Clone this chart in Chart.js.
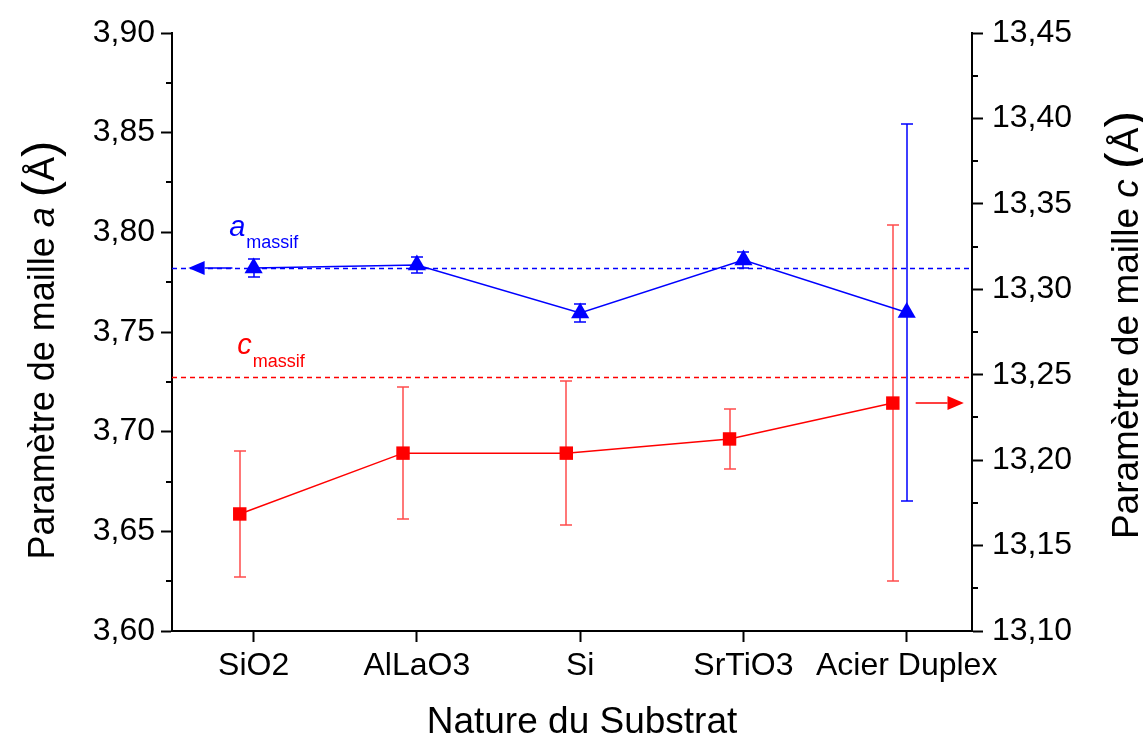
<!DOCTYPE html>
<html><head><meta charset="utf-8">
<script src="https://cdn.jsdelivr.net/npm/chart.js@4.4.1/dist/chart.umd.min.js"></script>
<style>html,body{margin:0;padding:0;background:#fff;}#wrap{width:1143px;height:738px;position:relative;}canvas{display:block;}</style>
</head><body><div id="wrap"><canvas id="c" width="1143" height="738" style="width:1143px;height:738px"></canvas></div>
<script>
// ---- data ----
const categories = ['SiO2', 'AlLaO3', 'Si', 'SrTiO3', 'Acier Duplex'];
const aValues = [3.7821, 3.7836, 3.7595, 3.7861, 3.7598];
const aErrors = [0.0045, 0.0040, 0.0043, 0.0038, 0.0945];
const cValues = [13.1685, 13.2041, 13.2041, 13.2124, 13.2334];
const cErrors = [0.0370, 0.0387, 0.0420, 0.0175, 0.1040];
const aMassif = 3.7821;
const cMassif = 13.2486;
const leftTicks = [3.60, 3.65, 3.70, 3.75, 3.80, 3.85, 3.90];
const rightTicks = [13.10, 13.15, 13.20, 13.25, 13.30, 13.35, 13.40, 13.45];

const FONT = "'Liberation Sans', Arial, sans-serif";
const BLUE = '#0000ff', RED = '#ff0000';
const C_SHIFT = -0.085; // horizontal offset of the c series markers

const fmt = v => v.toFixed(2).replace('.', ',');
const minors = t => t.slice(0, -1).map((v, i) => (v + t[i + 1]) / 2);

const aData = aValues.map((v, i) => ({x: i, y: v}));
const cData = cValues.map((v, i) => ({x: i + C_SHIFT, y: v}));

function drawErr(ctx, px, yScale, v, e, color, cap) {
  const top = Math.round(yScale.getPixelForValue(v + e)), bot = Math.round(yScale.getPixelForValue(v - e));
  px = Math.round(px);
  ctx.strokeStyle = color; ctx.lineWidth = 1.5;
  ctx.beginPath();
  ctx.moveTo(px, top); ctx.lineTo(px, bot);
  ctx.moveTo(px - cap, top); ctx.lineTo(px + cap, top);
  ctx.moveTo(px - cap, bot); ctx.lineTo(px + cap, bot);
  ctx.stroke();
}

function arrow(ctx, x0, x1, xTip, py, color) {
  py = Math.round(py);
  ctx.strokeStyle = color; ctx.fillStyle = color; ctx.lineWidth = 1.5;
  ctx.beginPath(); ctx.moveTo(x0, py); ctx.lineTo(x1, py); ctx.stroke();
  ctx.beginPath(); ctx.moveTo(xTip, py); ctx.lineTo(x1, py - 7); ctx.lineTo(x1, py + 7); ctx.closePath(); ctx.fill();
}

function richText(ctx, parts, cx, cy, rot) {
  ctx.save();
  ctx.translate(cx, cy); ctx.rotate(rot);
  let w = 0;
  parts.forEach(p => { ctx.font = p.font; w += ctx.measureText(p.t).width; });
  let x = -w / 2;
  ctx.textBaseline = 'alphabetic';
  parts.forEach(p => { ctx.font = p.font; ctx.fillStyle = p.c || '#000'; ctx.fillText(p.t, x, p.dy || 0); x += ctx.measureText(p.t).width; });
  ctx.restore();
}

const overlay = {
  id: 'overlay',
  beforeDatasetsDraw(chart) {
    const {ctx, chartArea, scales: {x, y, y2}} = chart;
    ctx.save();
    ctx.lineWidth = 1.3; ctx.setLineDash([5, 4]);
    let py = Math.round(y.getPixelForValue(aMassif)) + 0.5;
    ctx.strokeStyle = BLUE; ctx.beginPath(); ctx.moveTo(chartArea.left, py); ctx.lineTo(chartArea.right, py); ctx.stroke();
    py = Math.round(y2.getPixelForValue(cMassif)) + 0.5;
    ctx.strokeStyle = RED; ctx.beginPath(); ctx.moveTo(chartArea.left, py); ctx.lineTo(chartArea.right, py); ctx.stroke();
    ctx.setLineDash([]);
    cData.forEach((p, i) => drawErr(ctx, x.getPixelForValue(p.x), y2, p.y, cErrors[i], 'rgba(255,30,30,0.8)', 6));
    aData.forEach((p, i) => drawErr(ctx, x.getPixelForValue(p.x), y, p.y, aErrors[i], BLUE, 6));
    // arrows pointing to the axis of each series
    arrow(ctx, x.getPixelForValue(-0.13), x.getPixelForValue(-0.30), x.getPixelForValue(-0.40), y.getPixelForValue(aValues[0]), BLUE);
    const li = cValues.length - 1;
    arrow(ctx, x.getPixelForValue(li + 0.055), x.getPixelForValue(li + 0.25), x.getPixelForValue(li + 0.35), y2.getPixelForValue(cValues[li]), RED);
    ctx.restore();
  },
  afterDraw(chart) {
    const {ctx, chartArea, scales: {x, y, y2}} = chart;
    ctx.save();
    ctx.strokeStyle = '#000'; ctx.lineWidth = 2;
    ctx.beginPath();
    minors(leftTicks).forEach(v => { const p = Math.round(y.getPixelForValue(v)); ctx.moveTo(chartArea.left, p); ctx.lineTo(chartArea.left - 6, p); });
    minors(rightTicks).forEach(v => { const p = Math.round(y2.getPixelForValue(v)); ctx.moveTo(chartArea.right, p); ctx.lineTo(chartArea.right + 6, p); });
    ctx.stroke();
    // massif labels
    const ax = x.getPixelForValue(-0.15), ay = y.getPixelForValue(aMassif) - 32;
    ctx.fillStyle = BLUE; ctx.textBaseline = 'alphabetic';
    ctx.font = 'italic 29px ' + FONT; ctx.fillText('a', ax, ay);
    let w = ctx.measureText('a').width;
    ctx.font = '18px ' + FONT; ctx.fillText('massif', ax + w + 1, ay + 12);
    const cx = x.getPixelForValue(-0.10), cy = y2.getPixelForValue(cMassif) - 23;
    ctx.fillStyle = RED;
    ctx.font = 'italic 29px ' + FONT; ctx.fillText('c', cx, cy);
    w = ctx.measureText('c').width;
    ctx.font = '18px ' + FONT; ctx.fillText('massif', cx + w + 1, cy + 13);
    // axis titles
    const f = '36px ' + FONT, fi = 'italic 36px ' + FONT, fp = '49px ' + FONT;
    richText(ctx, [{t: 'Paramètre de maille ', font: f}, {t: 'a', font: fi}, {t: ' ', font: f}, {t: '(', font: fp, dy: 2}, {t: 'Å', font: f}, {t: ')', font: fp, dy: 2}], 54, 350, -Math.PI / 2);
    const f2 = '37px ' + FONT, fi2 = 'italic 37px ' + FONT, fp2 = '50px ' + FONT;
    richText(ctx, [{t: 'Paramètre de maille ', font: f2}, {t: 'c', font: fi2}, {t: ' ', font: f2}, {t: '(', font: fp2, dy: 2}, {t: 'Å', font: f2}, {t: ')', font: fp2, dy: 2}], 1138, 325, -Math.PI / 2);
    richText(ctx, [{t: 'Nature du Substrat', font: f2}], 582, 733, 0);
    ctx.restore();
  }
};

const axisCommon = {
  border: {display: true, color: '#000', width: 2},
  grid: {display: true, drawOnChartArea: false, drawTicks: true, tickLength: 11, tickColor: '#000', tickWidth: 2},
};

new Chart(document.getElementById('c'), {
  type: 'scatter',
  data: {
    datasets: [
      {label: 'a', data: aData, yAxisID: 'y', showLine: true, borderColor: BLUE, backgroundColor: BLUE, borderWidth: 1.5,
        pointStyle: 'triangle', pointRadius: 10.5, pointBorderWidth: 0, pointBackgroundColor: BLUE},
      {label: 'c', data: cData, yAxisID: 'y2', showLine: true, borderColor: RED, backgroundColor: RED, borderWidth: 1.5,
        pointStyle: 'rect', pointRadius: 9.5, pointBorderWidth: 0, pointBackgroundColor: RED}
    ]
  },
  options: {
    responsive: false, animation: false, devicePixelRatio: 1,
    layout: {padding: {top: 33, left: 0, right: 0, bottom: 0}},
    plugins: {legend: {display: false}, tooltip: {enabled: false}},
    scales: {
      x: Object.assign({}, axisCommon, {
        type: 'linear', position: 'bottom', min: -0.5, max: 4.4,
        afterBuildTicks: s => { s.ticks = categories.map((c, i) => ({value: i})); },
        afterFit: s => { s.height = 107; },
        ticks: {autoSkip: false, maxRotation: 0, padding: 5, color: '#000', font: {family: FONT, size: 32},
          callback: (v, i) => categories[i]}
      }),
      y: Object.assign({}, axisCommon, {
        type: 'linear', position: 'left', min: 3.6, max: 3.9,
        afterBuildTicks: s => { s.ticks = leftTicks.map(v => ({value: v})); },
        afterFit: s => { s.width = 172; },
        ticks: {padding: 6, color: '#000', font: {family: FONT, size: 32}, callback: v => fmt(v)}
      }),
      y2: Object.assign({}, axisCommon, {
        type: 'linear', position: 'right', min: 13.10, max: 13.45,
        afterBuildTicks: s => { s.ticks = rightTicks.map(v => ({value: v})); },
        afterFit: s => { s.width = 171; },
        ticks: {padding: 9, color: '#000', font: {family: FONT, size: 32}, callback: v => fmt(v)}
      })
    }
  },
  plugins: [overlay]
});
</script></body></html>
